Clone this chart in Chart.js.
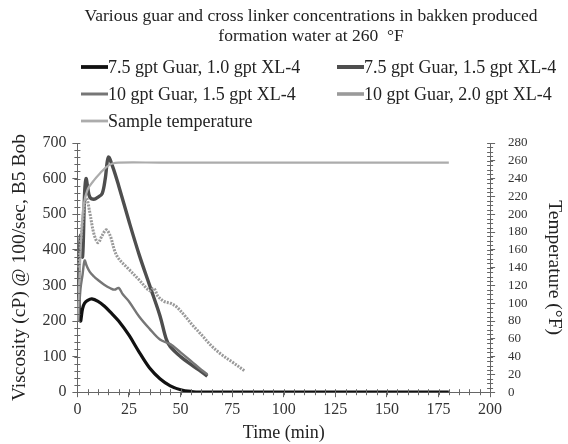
<!DOCTYPE html>
<html>
<head>
<meta charset="utf-8">
<script src="https://cdn.jsdelivr.net/npm/chart.js@4"></script>
<style>
  html, body { margin: 0; padding: 0; background: #fff; }
  #wrap { width: 568px; height: 444px; }
</style>
</head>
<body>
<div id="wrap"><canvas id="viscChart" width="568" height="444"></canvas></div>
<script>
const titleLines = [
    'Various guar and cross linker concentrations in bakken produced',
    'formation water at 260  \u00B0F'
];
const seriesLabels = [
    '7.5 gpt Guar, 1.0 gpt XL-4',
    '7.5 gpt Guar, 1.5 gpt XL-4',
    '10 gpt Guar, 1.5 gpt XL-4',
    '10 gpt Guar, 2.0 gpt XL-4',
    'Sample temperature'
];

// 7.5 gpt guar, 1.0 gpt XL-4
const timeA = [0.5, 1.5, 2.5, 3.5, 5, 7, 10, 13, 16, 20, 25, 30, 35, 40, 45, 50, 55, 60, 70, 80, 100, 120, 140, 160, 180];
const viscA = [280, 200, 235, 250, 258, 262, 255, 242, 225, 200, 160, 112, 68, 38, 18, 7, 2, 0, 0, 0, 0, 0, 0, 0, 0];

// 7.5 gpt guar, 1.5 gpt XL-4
const timeB = [0.5, 1.5, 2.5, 3.5, 4.2, 5, 6, 8, 10, 12, 13.5, 15, 17, 20, 25, 30, 35, 40, 43, 45, 50, 55, 60, 63];
const viscB = [300, 440, 380, 560, 600, 575, 548, 542, 548, 558, 600, 660, 635, 580, 480, 385, 300, 215, 150, 128, 100, 78, 58, 45];

// 10 gpt guar, 1.5 gpt XL-4
const timeC = [0.5, 1.5, 2.5, 3.5, 4.5, 6, 8, 10, 13, 16, 18, 20, 22, 25, 30, 35, 40, 45, 50, 55, 60, 63];
const viscC = [200, 290, 330, 370, 355, 338, 325, 315, 302, 292, 288, 293, 275, 255, 212, 178, 148, 135, 112, 88, 63, 50];

// 10 gpt guar, 2.0 gpt XL-4
const timeD = [0.5, 1.5, 2.5, 3.5, 4.5, 6, 8, 10, 12, 14, 16, 18, 20, 25, 30, 35, 37, 39, 42, 45, 48, 52, 56, 60, 65, 70, 75, 81];
const viscD = [350, 420, 480, 530, 545, 505, 445, 420, 440, 456, 438, 398, 375, 345, 315, 285, 292, 270, 255, 250, 240, 215, 187, 162, 130, 105, 85, 60];

// sample temperature, right axis
const timeT = [0, 1, 2, 3, 5, 8, 11, 14, 17, 20, 40, 60, 80, 100, 120, 140, 160, 180];
const tempT = [80, 130, 180, 210, 228, 238, 246, 253, 257, 258, 258, 258, 258, 258, 258, 258, 258, 258];

const xTicks = { min: 0, max: 200, step: 25, minor: 5 };
const yTicks = { min: 0, max: 700, step: 100, minor: 20 };
const y1Ticks = { min: 0, max: 280, step: 20, minor: 5 };

function toPoints(xs, ys) {
    return xs.map((x, i) => ({ x: x, y: ys[i] }));
}

const serif = '"Liberation Serif", "Times New Roman", serif';
const styles = [
    { color: '#111111', width: 3.2, dash: [] },
    { color: '#4e4e4e', width: 3.4, dash: [] },
    { color: '#767676', width: 2.4, dash: [] },
    { color: '#9a9a9a', width: 3, dash: [2, 1.2] },
    { color: '#acacac', width: 2.2, dash: [] }
];

// small ticks between the labelled ones
const minorTicks = {
    id: 'minorTicks',
    afterDraw(chart) {
        const ctx = chart.ctx;
        const { x, y, y1 } = chart.scales;
        ctx.save();
        ctx.strokeStyle = '#666';
        ctx.lineWidth = 1;
        ctx.beginPath();
        for (let v = xTicks.min; v <= xTicks.max; v += xTicks.minor) {
            const px = Math.round(x.getPixelForValue(v)) + 0.5;
            ctx.moveTo(px, y.bottom - 3);
            ctx.lineTo(px, y.bottom + 3);
        }
        for (let v = yTicks.min; v <= yTicks.max; v += yTicks.minor) {
            const py = Math.round(y.getPixelForValue(v)) + 0.5;
            ctx.moveTo(x.left - 3, py);
            ctx.lineTo(x.left + 3, py);
        }
        for (let v = y1Ticks.min; v <= y1Ticks.max; v += y1Ticks.minor) {
            const py = Math.round(y1.getPixelForValue(v)) + 0.5;
            ctx.moveTo(x.right - 3, py);
            ctx.lineTo(x.right + 3, py);
        }
        ctx.stroke();
        ctx.restore();
    }
};

// title and two-column legend above the plot
const header = {
    id: 'header',
    afterDraw(chart) {
        const ctx = chart.ctx;
        ctx.save();
        ctx.fillStyle = '#222';
        ctx.textBaseline = 'middle';
        ctx.textAlign = 'center';
        ctx.font = '17.5px ' + serif;
        titleLines.forEach((line, i) => ctx.fillText(line, 311, 16 + i * 20));

        const cols = [81, 337];
        const rows = [67, 94, 121];
        ctx.textAlign = 'left';
        ctx.font = '18px ' + serif;
        chart.data.datasets.forEach((ds, i) => {
            const cx = cols[i % 2];
            const cy = rows[Math.floor(i / 2)];
            ctx.strokeStyle = ds.borderColor;
            ctx.lineWidth = ds.borderWidth + 0.6;
            ctx.beginPath();
            ctx.moveTo(cx, cy);
            ctx.lineTo(cx + 27, cy);
            ctx.stroke();
            ctx.fillText(ds.label, cx + 27, cy + 1);
        });
        ctx.restore();
    }
};

const series = [
    toPoints(timeA, viscA),
    toPoints(timeB, viscB),
    toPoints(timeC, viscC),
    toPoints(timeD, viscD),
    toPoints(timeT, tempT)
];

const datasets = series.map((pts, i) => ({
    label: seriesLabels[i],
    data: pts,
    yAxisID: i === 4 ? 'y1' : 'y',
    borderColor: styles[i].color,
    borderWidth: styles[i].width,
    borderDash: styles[i].dash,
    pointRadius: 0,
    tension: 0.35,
    fill: false,
    order: 4 - i
}));

const tickFont = { family: serif, size: 16 };
const titleFont = { family: serif, size: 19.5 };

new Chart(document.getElementById('viscChart').getContext('2d'), {
    type: 'line',
    data: { datasets: datasets },
    options: {
        responsive: false,
        animation: false,
        layout: { padding: { left: 3, right: 0, top: 143, bottom: 0 } },
        scales: {
            x: {
                type: 'linear',
                min: xTicks.min,
                max: xTicks.max,
                border: { color: '#666' },
                grid: { drawOnChartArea: false, color: '#666', tickLength: 5 },
                ticks: { stepSize: xTicks.step, color: '#333', font: tickFont, padding: 3, maxRotation: 0 },
                title: { display: true, text: 'Time (min)', color: '#222', font: { family: serif, size: 18 }, padding: 0 }
            },
            y: {
                position: 'left',
                min: yTicks.min,
                max: yTicks.max,
                border: { color: '#666' },
                grid: { drawOnChartArea: false, color: '#666', tickLength: 5 },
                ticks: { stepSize: yTicks.step, color: '#333', font: tickFont, padding: 6 },
                title: { display: true, text: 'Viscosity (cP) @ 100/sec, B5 Bob', color: '#222', font: titleFont, padding: 5 }
            },
            y1: {
                position: 'right',
                min: y1Ticks.min,
                max: y1Ticks.max,
                border: { color: '#666' },
                grid: { drawOnChartArea: false, color: '#666', tickLength: 5 },
                ticks: { stepSize: y1Ticks.step, color: '#333', font: { family: serif, size: 13 }, padding: 13, autoSkip: false },
                title: { display: true, text: 'Temperature (\u00B0F)', color: '#222', font: titleFont, padding: 2 }
            }
        },
        plugins: {
            legend: { display: false },
            tooltip: { enabled: false },
            title: { display: false }
        }
    },
    plugins: [minorTicks, header]
});
</script>
</body>
</html>
